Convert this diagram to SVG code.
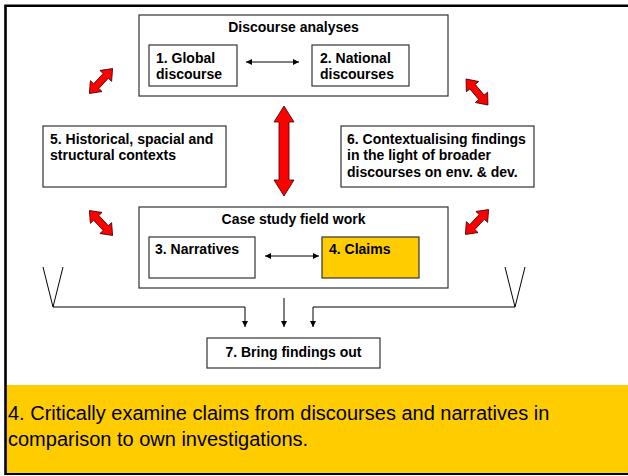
<svg xmlns="http://www.w3.org/2000/svg" width="628" height="476" viewBox="0 0 628 476">
<style>
.box{fill:#fff;stroke:#333;stroke-width:1.2}
.t{font-family:"Liberation Sans",Arial,sans-serif;font-size:14px;font-weight:bold;fill:#000}
.tc{text-anchor:middle}
.ln{fill:none;stroke:#000;stroke-width:1}
.red{fill:#ff0000;stroke:#3a0000;stroke-width:0.8}
.big{font-family:"Liberation Sans",Arial,sans-serif;font-size:20px;fill:#000}
</style>
<defs>
<marker id="ah" markerUnits="userSpaceOnUse" markerWidth="7" markerHeight="6" refX="6" refY="3" orient="auto-start-reverse">
<path d="M0,0 L6,3 L0,6 Z" fill="#000"/>
</marker>
<path id="dbl" d="M -17 0 L -7 -8 L -7 -3.5 L 7 -3.5 L 7 -8 L 17 0 L 7 8 L 7 3.5 L -7 3.5 L -7 8 Z"/>
</defs>
<rect x="0" y="0" width="628" height="476" fill="#fff"/>
<rect x="5" y="385" width="623" height="89" fill="#ffcc00"/>
<path d="M5.5,475 L5.5,5.8 L628,5.8" fill="none" stroke="#000" stroke-width="2.6"/>
<line x1="5" y1="474" x2="628" y2="474" stroke="#000" stroke-width="2"/>

<g id="discourse-analyses">
<rect class="box" x="139" y="15" width="309" height="81"/>
<text class="t tc" x="293.5" y="32">Discourse analyses</text>
</g>
<g id="global-discourse">
<rect class="box" x="149" y="45" width="88" height="41"/>
<text class="t" x="156" y="63">1. Global</text>
<text class="t" x="156" y="79">discourse</text>
</g>
<g id="national-discourses">
<rect class="box" x="312" y="45" width="97" height="41"/>
<text class="t" x="320" y="63">2. National</text>
<text class="t" x="320" y="79">discourses</text>
</g>
<g id="historical-contexts">
<rect class="box" x="43" y="126" width="183" height="61"/>
<text class="t" x="50" y="143.5">5. Historical, spacial and</text>
<text class="t" x="50" y="160">structural contexts</text>
</g>
<g id="contextualising-findings">
<rect class="box" x="341" y="126" width="193" height="61"/>
<text class="t" x="347" y="143.5">6. Contextualising findings</text>
<text class="t" x="347" y="160">in the light of broader</text>
<text class="t" x="347" y="176.5">discourses on env. &amp; dev.</text>
</g>
<g id="case-study">
<rect class="box" x="139" y="207" width="309" height="81"/>
<text class="t tc" x="293.5" y="224">Case study field work</text>
</g>
<g id="narratives">
<rect class="box" x="149" y="237" width="106" height="41"/>
<text class="t" x="155" y="254">3. Narratives</text>
</g>
<g id="claims">
<rect class="box" x="322" y="237" width="97" height="41" style="fill:#ffcc00"/>
<text class="t" x="329" y="254">4. Claims</text>
</g>
<g id="bring-findings-out">
<rect class="box" x="207" y="338" width="173" height="30"/>
<text class="t tc" x="293.5" y="357">7. Bring findings out</text>
</g>
<g id="note">
<text class="big" x="8" y="420">4. Critically examine claims from discourses and narratives in</text>
<text class="big" x="8" y="446">comparison to own investigations.</text>
</g>

<g id="connectors">
<line class="ln" x1="246" y1="62" x2="299" y2="62" marker-start="url(#ah)" marker-end="url(#ah)"/>
<line class="ln" x1="265" y1="256" x2="319" y2="256" marker-start="url(#ah)" marker-end="url(#ah)"/>
<path class="red" d="M284,106 L294,122 L289,122 L289,180 L294,180 L284,196 L274,180 L279,180 L279,122 L274,122 Z"/>
<use href="#dbl" class="red" transform="translate(101,81) rotate(-47)"/>
<use href="#dbl" class="red" transform="translate(477,92) rotate(50)"/>
<use href="#dbl" class="red" transform="translate(101,223) rotate(47)"/>
<use href="#dbl" class="red" transform="translate(477,222) rotate(-47)"/>
<polyline class="ln" points="43,267 53,307 63,267"/>
<polyline class="ln" points="505,267 515,307 525,267"/>
<polyline class="ln" points="53,307 245,307 245,327" marker-end="url(#ah)"/>
<line class="ln" x1="284" y1="298" x2="284" y2="327" marker-end="url(#ah)"/>
<polyline class="ln" points="515,307 313,307 313,327" marker-end="url(#ah)"/>
</g>
</svg>
